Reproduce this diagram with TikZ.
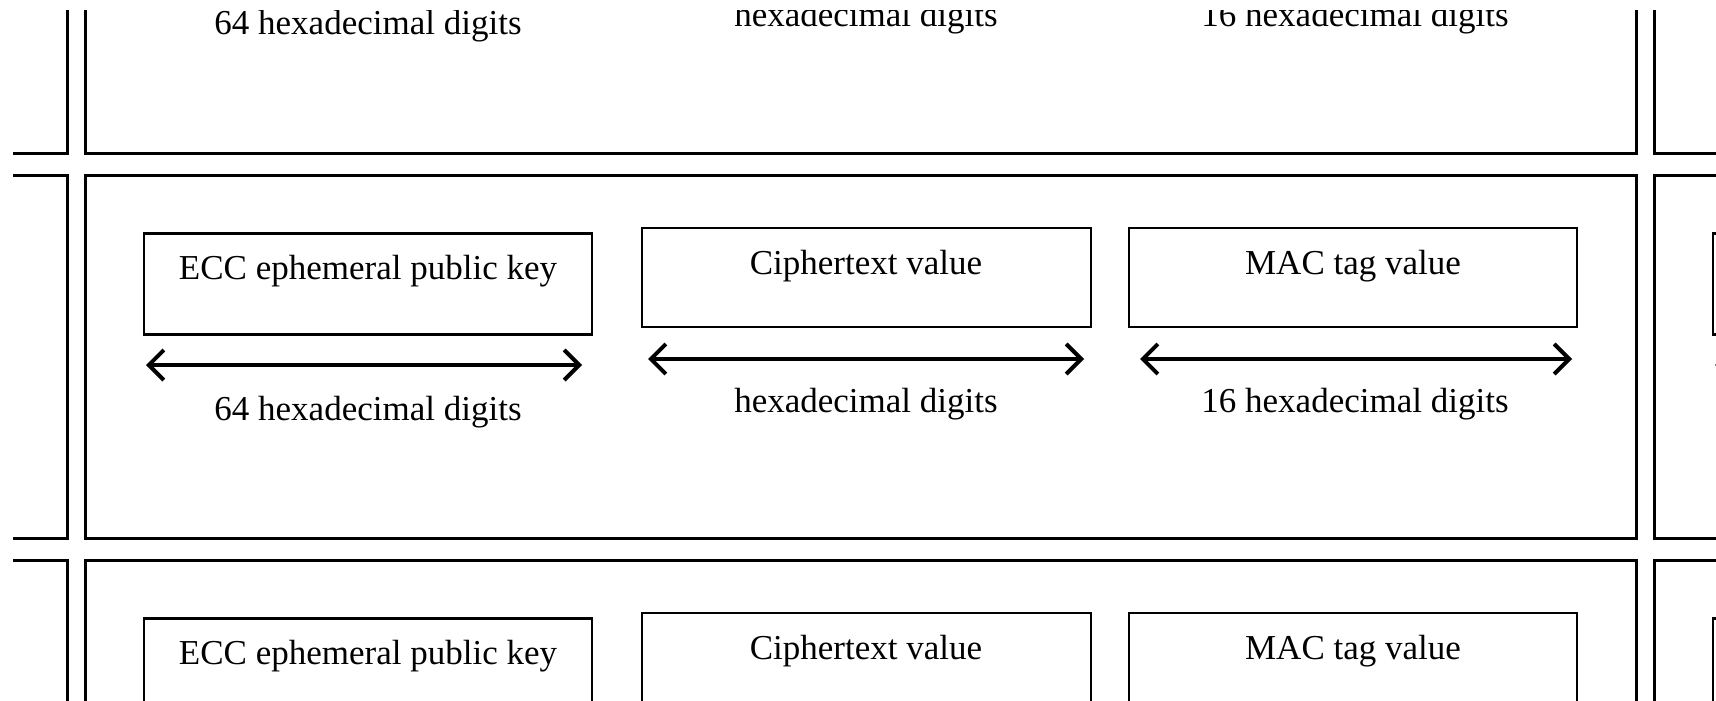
\documentclass[tikz,border=0pt]{standalone}
\usepackage{fontspec}
\setmainfont{Liberation Serif}
\usetikzlibrary{arrows.meta}
\begin{document}
\begin{tikzpicture}[x=1pt,y=-1pt,
  outerbox/.style={draw=black,line width=3pt,inner sep=0pt,outer sep=0pt,minimum width=1551pt,minimum height=363pt},
  innerbox/.style={draw=black,line width=2.6pt,inner sep=0pt,outer sep=0pt},
  dimarrow/.style={line width=4pt,{Straight Barb[length=15pt,width=30pt]}-{Straight Barb[length=15pt,width=30pt]}},
  txt/.style={inner sep=0pt,anchor=base,font=\fontsize{35}{40}\selectfont}]
\useasboundingbox (0,0) rectangle (1716,701);
\fill[white] (0,0) rectangle (1716,701);
\clip (13,11) rectangle (1716,701);
\foreach \c/\dx in {L/-1569,M/0,R/1569}{
  \foreach \r/\dy in {T/-385,M/0,B/385}{
    \node[outerbox] (o\r\c) at (860.5+\dx,356.5+\dy) {};
    \node[innerbox,minimum width=448pt,minimum height=101pt] (e\r\c) at (368+\dx,284+\dy) {};
    \node[innerbox,minimum width=449pt,minimum height=99pt] (k\r\c) at (866.5+\dx,277.5+\dy) {};
    \node[innerbox,minimum width=448pt,minimum height=99pt] (m\r\c) at (1353+\dx,277.5+\dy) {};
    \node[txt] (te\r\c) at (368+\dx,279+\dy) {ECC ephemeral public key};
    \node[txt] (tk\r\c) at (866+\dx,274+\dy) {Ciphertext value};
    \node[txt] (tm\r\c) at (1353+\dx,274+\dy) {MAC tag value};
    \coordinate (ea\r\c) at (146+\dx,365+\dy);
    \coordinate (eb\r\c) at (582+\dx,365+\dy);
    \coordinate (ka\r\c) at (648+\dx,359+\dy);
    \coordinate (kb\r\c) at (1084+\dx,359+\dy);
    \coordinate (ma\r\c) at (1140+\dx,359+\dy);
    \coordinate (mb\r\c) at (1572+\dx,359+\dy);
    \draw[dimarrow] (ea\r\c) -- (eb\r\c);
    \draw[dimarrow] (ka\r\c) -- (kb\r\c);
    \draw[dimarrow] (ma\r\c) -- (mb\r\c);
    \node[txt] (le\r\c) at (368+\dx,420+\dy) {64 hexadecimal digits};
    \node[txt] (lk\r\c) at (866+\dx,412+\dy) {hexadecimal digits};
    \node[txt] (lm\r\c) at (1355+\dx,412+\dy) {16 hexadecimal digits};
  }
}
\end{tikzpicture}
\end{document}
